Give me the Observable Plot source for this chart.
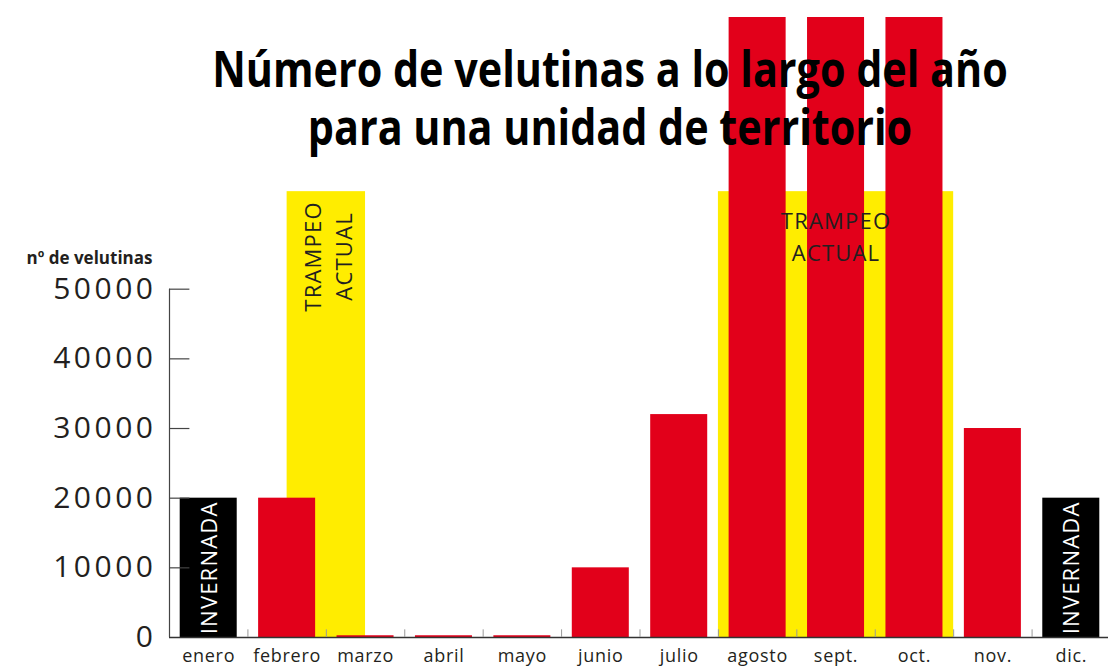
<!DOCTYPE html>
<html>
<head>
<meta charset="utf-8">
<script src="https://cdn.jsdelivr.net/npm/d3@7"></script>
<script src="https://cdn.jsdelivr.net/npm/@observablehq/plot@0.6"></script>
<style>
  html, body { margin: 0; padding: 0; background: #fff; }
  g[aria-label="y-axis tick label"] text { letter-spacing: 3.5px; }
  g[aria-label="x-axis tick label"] text { letter-spacing: 0.7px; }
</style>
</head>
<body>
<div id="chart"></div>
<script>
// ---- data ----
const months = ["enero", "febrero", "marzo", "abril", "mayo", "junio", "julio", "agosto", "sept.", "oct.", "nov.", "dic."];
const counts = [20000, 20000, 250, 250, 250, 10000, 32000, 89000, 89000, 89000, 30000, 20000];
const phases = ["invernada", "activa", "activa", "activa", "activa", "activa", "activa", "activa", "activa", "activa", "activa", "invernada"];
const trampeoStart = [1.5, 7];      // month index where current trapping starts
const trampeoEnd = [2.5, 10];       // month index where current trapping ends
const trampeoLevel = [64000, 64000];
const yTicks = [0, 10000, 20000, 30000, 40000, 50000];
const titleText = "Número de velutinas a lo largo del año\npara una unidad de territorio";
const yLabel = "nº de velutinas";
const trampeoLabel = "TRAMPEO\nACTUAL";
const invernadaLabel = "INVERNADA";

// ---- tables built from the arrays ----
const table = months.map((m, i) => ({month: m, i, count: counts[i], phase: phases[i]}));
const trampeo = trampeoStart.map((s, k) => ({start: s, end: trampeoEnd[k], level: trampeoLevel[k]}));
const invernada = table.filter(d => d.phase === "invernada");

const RED = "#e2001a", YELLOW = "#ffed00", INK = "#231f20";

const chart = Plot.plot({
  width: 1108,
  height: 670,
  marginLeft: 169,
  marginRight: 0,
  marginTop: 17,
  marginBottom: 33,
  style: {fontFamily: "'Open Sans', sans-serif", color: INK, background: "#fff"},
  x: {type: "linear", domain: [0, 12], range: [169, 1110]},
  y: {domain: [0, 89000], range: [637, 17]},
  marks: [
    // current trapping periods
    Plot.rectY(trampeo, {x1: "start", x2: "end", y1: 0, y2: "level", fill: YELLOW}),
    // monthly bars
    Plot.rectY(table, {
      x1: "i", x2: d => d.i + 1, y1: 0, y2: "count",
      fill: d => d.phase === "invernada" ? "#000" : RED,
      insetLeft: 10.7, insetRight: 10.7
    }),
    // baseline and month separators
    Plot.ruleY([0], {stroke: "#333", strokeWidth: 1.5}),
    Plot.ruleX(d3.range(1, 12), {y1: 0, y2: 1100, stroke: "#999", strokeWidth: 1}),
    // y axis line and ticks
    Plot.ruleX([0], {y1: 0, y2: yTicks[yTicks.length - 1], stroke: "#444", strokeWidth: 1.2}),
    Plot.ruleY(yTicks.slice(1), {x1: 0, x2: 0.26, stroke: "#444", strokeWidth: 1.2}),
    Plot.axisY({
      ticks: yTicks, tickSize: 0, tickPadding: 13, fontSize: 30, fontWeight: 400,
      tickFormat: d3.format("d"), label: null
    }),
    Plot.axisX({
      ticks: months.map((m, i) => i + 0.5), tickFormat: d => months[Math.floor(d)],
      tickSize: 0, tickPadding: 12, fontSize: 18, label: null
    }),
    Plot.text([yLabel], {
      x: 0, y: 54400, text: d => d, textAnchor: "end", dx: -17,
      fontSize: 17, fontWeight: "bold"
    }),
    // labels inside bars
    Plot.text(invernada, {
      x: d => d.i + 0.5, y: d => d.count / 2, text: () => invernadaLabel,
      rotate: -90, fill: "#fff", fontSize: 22, dx: 1
    }),
    Plot.text([trampeo[0]], {
      x: d => (d.start + d.end) / 2, y: 54700, text: () => trampeoLabel,
      rotate: -90, fill: INK, fontSize: 22, lineHeight: 1.45
    }),
    Plot.text([trampeo[1]], {
      x: d => (d.start + d.end) / 2, y: 57870, text: () => trampeoLabel,
      fill: INK, fontSize: 22, lineHeight: 1.45
    }),
    // title (drawn over the bars)
    Plot.text([titleText], {
      frameAnchor: "top", lineAnchor: "top", dy: 28, dx: -29,
      text: d => d, fontSize: 51, fontWeight: "bold",
      lineHeight: 1.14, fill: "#000"
    })
  ]
});

// widen / condense some labels to match the reference lettering
d3.select(chart).selectAll("text").each(function () {
  const t = this.textContent;
  const tr = this.getAttribute("transform") || "";
  if (t.startsWith("Número")) this.setAttribute("transform", tr + " scale(0.81,1)");
  if (t.startsWith("INVERNADA") || t.startsWith("TRAMPEO")) this.style.letterSpacing = "1.2px";
});
document.getElementById("chart").appendChild(chart);
</script>
</body>
</html>
